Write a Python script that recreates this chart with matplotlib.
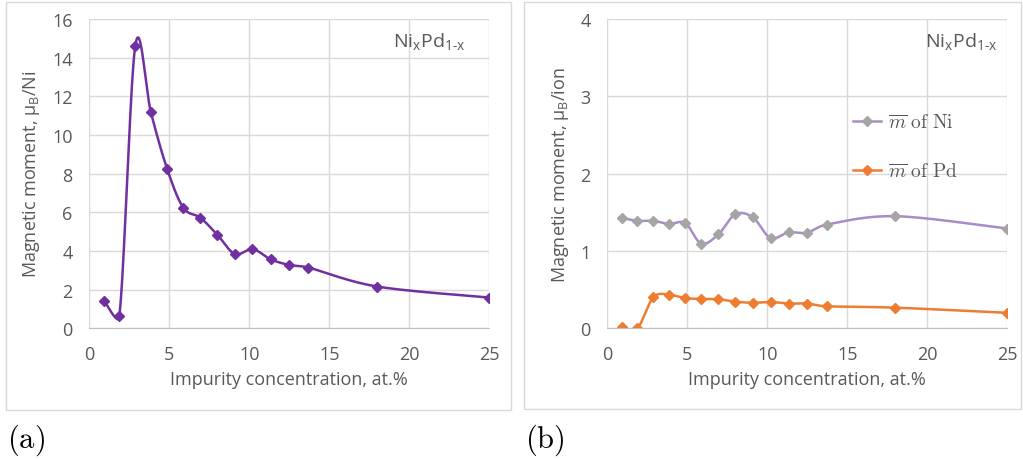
import numpy as np
import matplotlib
matplotlib.use('Agg')
import matplotlib.pyplot as plt
from matplotlib.patches import Rectangle
from matplotlib.font_manager import FontProperties

plt.rcParams['font.family'] = 'Open Sans'
plt.rcParams['mathtext.fontset'] = 'custom'
plt.rcParams['mathtext.rm'] = 'Open Sans'
plt.rcParams['mathtext.it'] = 'Open Sans:italic'

# impurity concentration, at.%
conc = [0.94, 1.875, 2.875, 3.85, 4.875, 5.875, 6.94, 8.0, 9.1, 10.2, 11.33, 12.48, 13.7, 18.0, 25.0]
# total moment per Ni, panel (a)
m_total = [1.40, 0.62, 14.62, 11.17, 8.22, 6.24, 5.72, 4.84, 3.84, 4.10, 3.57, 3.28, 3.14, 2.16, 1.59]
# average moment of Ni and Pd ions, panel (b)
m_ni = [1.427, 1.39, 1.39, 1.35, 1.36, 1.095, 1.215, 1.474, 1.435, 1.168, 1.24, 1.237, 1.34, 1.45, 1.29]
m_pd = [0.02, 0.0, 0.40, 0.435, 0.39, 0.38, 0.375, 0.345, 0.33, 0.34, 0.32, 0.32, 0.285, 0.267, 0.20]

PURPLE = '#7030A0'
LILAC = '#A98BC8'
GREY = '#A5A5A5'
ORANGE = '#ED7D31'
TXT = '#595959'
GRID = '#D9D9D9'


def smooth(ax, x, y, n=40, k=0.5):
    # Catmull-Rom style bezier; control arms limited to k * segment length
    # (in pixels) so short segments next to a steep jump don't swing wildly
    data = np.column_stack([x, y]).astype(float)
    pix = ax.transData.transform(data)
    P = np.vstack([pix[0], pix, pix[-1]])
    t = np.linspace(0, 1, n)[:, None]
    out = []
    for i in range(1, len(P) - 2):
        p0, p1, p2, p3 = P[i - 1:i + 3]
        seg = np.linalg.norm(p2 - p1)
        a = (p2 - p0) / 6
        b = (p3 - p1) / 6
        for v in (a, b):
            L = np.linalg.norm(v)
            if L > k * seg:
                v *= k * seg / L
        c1, c2 = p1 + a, p2 - b
        out.append((1 - t) ** 3 * p1 + 3 * (1 - t) ** 2 * t * c1
                   + 3 * (1 - t) * t ** 2 * c2 + t ** 3 * p2)
    s = ax.transData.inverted().transform(np.vstack(out))
    return s[:, 0], s[:, 1]


W, H = 1023, 460
fig = plt.figure(figsize=(W / 100, H / 100), dpi=100)

# chart frames
for x0, x1, y0, y1 in [(6, 511, 3, 411), (524, 1021, 3, 410)]:
    fig.patches.append(Rectangle((x0 / W, 1 - y1 / H), (x1 - x0) / W, (y1 - y0) / H,
                                 transform=fig.transFigure, fill=False,
                                 edgecolor=GRID, lw=1))


def style(ax, ymax, ystep):
    ax.set_xlim(0, 25)
    ax.set_ylim(0, ymax)
    ax.set_xticks(range(0, 26, 5))
    ax.set_yticks(np.arange(0, ymax + 0.01, ystep))
    ax.grid(True, color=GRID, lw=1)
    ax.set_axisbelow(True)
    for s in ['top', 'right', 'left']:
        ax.spines[s].set_visible(False)
    ax.spines['bottom'].set_color('#BFBFBF')
    ax.tick_params(length=0, colors=TXT, labelsize=13)
    ax.tick_params(axis='x', pad=12)
    ax.tick_params(axis='y', pad=12)
    ax.set_xlabel('Impurity concentration, at.%', color=TXT, fontsize=13, labelpad=5)


comp = r'Ni$_\mathrm{x}$Pd$_\mathrm{1\text{-}x}$'

# (a) total moment
ax1 = fig.add_axes([89.3 / W, 1 - 329.3 / H, 400 / W, 309.3 / H])
style(ax1, 16, 2)
sx, sy = smooth(ax1, conc, m_total)
ax1.plot(sx, sy, color=PURPLE, lw=1.8)
ax1.plot(conc, m_total, ls='none', marker='D', ms=5, color=PURPLE)
ax1.set_ylabel(r'Magnetic moment, μ$_\mathrm{B}$/Ni', color=TXT, fontsize=13, labelpad=7)
ax1.text(0.94, 0.93, comp, transform=ax1.transAxes, ha='right', va='center',
         color=TXT, fontsize=14)

# (b) Ni and Pd moments
ax2 = fig.add_axes([607.3 / W, 1 - 329.3 / H, 400 / W, 309.3 / H])
style(ax2, 4, 1)
sx, sy = smooth(ax2, conc, m_ni)
ax2.plot(sx, sy, color=LILAC, lw=1.8)
ax2.plot(conc, m_ni, ls='none', marker='D', ms=5, color=GREY)
sx, sy = smooth(ax2, conc, m_pd)
ax2.plot(sx, sy, color=ORANGE, lw=1.8)
ax2.plot(conc, m_pd, ls='none', marker='D', ms=5, color=ORANGE)
ax2.set_ylabel(r'Magnetic moment, μ$_\mathrm{B}$/ion', color=TXT, fontsize=13, labelpad=7)
ax2.text(0.975, 0.93, comp, transform=ax2.transAxes, ha='right', va='center',
         color=TXT, fontsize=14)

h1, = ax2.plot([], [], color=LILAC, lw=1.8, marker='D', ms=5, mfc=GREY, mec=GREY)
h2, = ax2.plot([], [], color=ORANGE, lw=1.8, marker='D', ms=5)
cm = FontProperties(size=14, math_fontfamily='cm')
leg = ax2.legend([h1, h2], [r'$\overline{m}\ \mathrm{of\ Ni}$', r'$\overline{m}\ \mathrm{of\ Pd}$'],
                 loc='center left', bbox_to_anchor=((853 - 607.3) / 400, (329.3 - 148) / 309.3),
                 frameon=False, prop=cm, labelspacing=1.55, handlelength=1.45,
                 handletextpad=0.35, borderpad=0, borderaxespad=0)
for t in leg.get_texts():
    t.set_color(TXT)

# panel letters
for x, s in [(7, '(a)'), (525, '(b)')]:
    fig.text(x / W, 1 - 440 / H, r'$\mathrm{%s}$' % s, fontsize=22, va='center', ha='left',
             math_fontfamily='cm', color='black')

fig.savefig('out.png', dpi=100)
